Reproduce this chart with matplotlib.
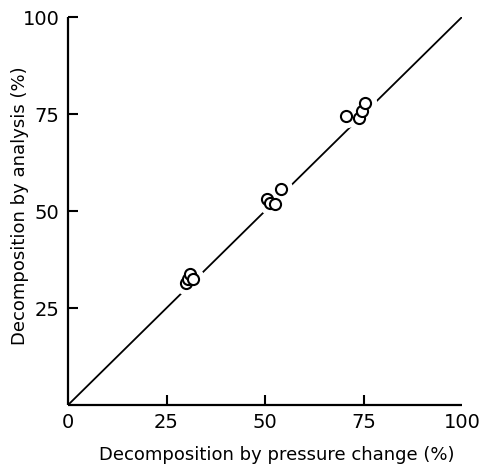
import matplotlib
matplotlib.use("Agg")
import matplotlib.pyplot as plt

# Data
pressure_pct = [30.0, 30.4, 31.0, 31.6, 50.5, 51.3, 52.5, 54.0, 70.6, 73.9, 74.6, 75.4]
analysis_pct = [31.5, 32.6, 33.8, 32.6, 53.2, 52.1, 51.7, 55.8, 74.5, 74.0, 75.9, 77.8]
line_x = [0, 100]
line_y = [0, 100]
x_ticks = [0, 25, 50, 75, 100]
y_ticks = [25, 50, 75, 100]

plt.rcParams['font.family'] = ['DejaVu Sans']

fig = plt.figure(figsize=(4.8, 4.66), dpi=100)
ax = fig.add_axes([0.1417, 0.1309, 0.8208, 0.8326])

ax.plot(line_x, line_y, color='black', lw=1.3, zorder=1, solid_capstyle='butt')
# white halo breaks the line around the markers
ax.plot(pressure_pct, analysis_pct, ls='none', marker='o', ms=17,
        mfc='white', mec='none', zorder=2)
ax.plot(pressure_pct, analysis_pct, ls='none', marker='o', ms=8,
        mfc='white', mec='black', mew=1.5, zorder=3)

ax.set_xlim(0, 100)
ax.set_ylim(0, 100)
ax.set_xticks(x_ticks)
ax.set_xticklabels([str(t) for t in x_ticks])
ax.set_yticks(y_ticks)
ax.set_yticklabels([str(t) for t in y_ticks])

for s in ['top', 'right']:
    ax.spines[s].set_visible(False)
for s in ['left', 'bottom']:
    ax.spines[s].set_linewidth(1.6)
    ax.spines[s].set_capstyle('butt')

ax.tick_params(direction='in', length=7, width=1.5, labelsize=14, pad=6)
ax.xaxis.get_major_ticks()[0].tick1line.set_visible(False)
ax.xaxis.get_major_ticks()[-1].tick1line.set_visible(False)

ax.set_xlabel('Decomposition by pressure change (%)', fontsize=13)
ax.set_ylabel('Decomposition by analysis (%)', fontsize=13)
ax.xaxis.set_label_coords(0.53, -0.105)
ax.yaxis.set_label_coords(-0.10, 0.513)

fig.savefig('out.png', dpi=100)
